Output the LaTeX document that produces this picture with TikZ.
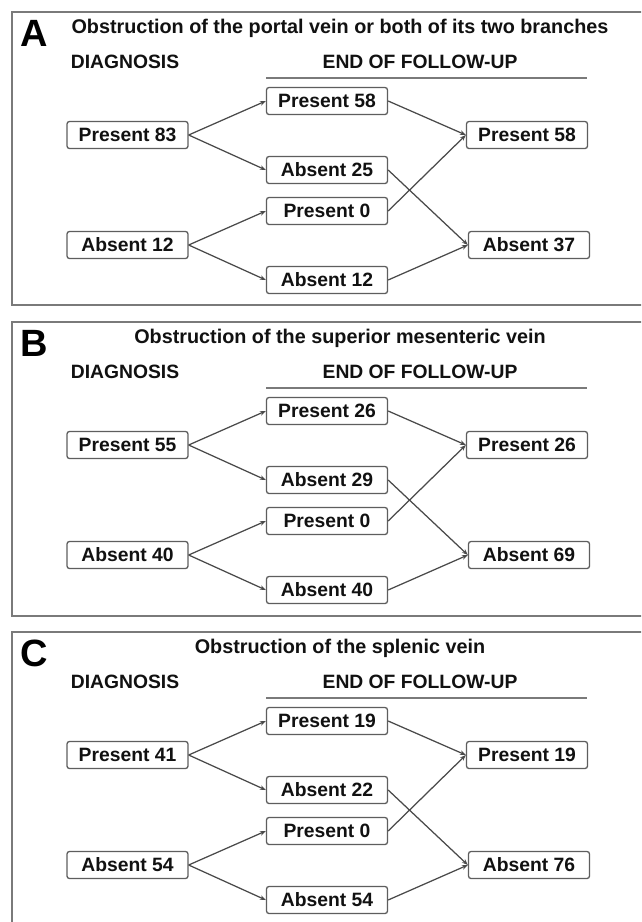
\documentclass[tikz,border=0pt]{standalone}
\usepackage{fontspec}
\setmainfont{Liberation Sans}
\usetikzlibrary{arrows.meta}
\definecolor{framegray}{HTML}{7A7A7A}
\definecolor{boxgray}{HTML}{5E5E5E}
\definecolor{linegray}{HTML}{4A4A4A}
\definecolor{txt}{HTML}{111111}
\begin{document}
\begin{tikzpicture}[x=1pt,y=-1pt,
  frame/.style={draw=framegray, line width=1.6pt, fill=white},
  box/.style={draw=boxgray, line width=1.3pt, rounded corners=2.5pt, minimum width=121pt, minimum height=27pt, inner sep=0pt, fill=white, text=txt, font=\fontsize{19.3}{21}\selectfont\bfseries},
  head/.style={text=txt, inner sep=0pt, font=\fontsize{19.3}{21}\selectfont\bfseries},
  ttl/.style={text=txt, inner sep=0pt, font=\fontsize{19.8}{21}\selectfont\bfseries},
  letter/.style={text=black, inner sep=0pt, font=\fontsize{38}{40}\selectfont\bfseries},
  rule/.style={draw=framegray, line width=1.4pt},
  conn/.style={draw=linegray, line width=1.25pt, -{Stealth[length=6pt,width=4.5pt]}}]
\useasboundingbox (0,0) rectangle (641,922);
\clip (0,0) rectangle (641,922);
\fill[white] (0,0) rectangle (641,922);

% ---------------- Panel A ----------------
\begin{scope}
\path[frame] (12,12) rectangle (660,305);
\node[letter] (aL) at (34,33) {A};
\node[ttl] (aT) at (340,28) {Obstruction of the portal vein or both of its two branches};
\node[head] (aD) at (125,62) {DIAGNOSIS};
\node[head] (aE) at (420,62) {END OF FOLLOW-UP};
\coordinate (aU1) at (266,78);
\coordinate (aU2) at (587,78);
\draw[rule] (aU1) -- (aU2);
\node[box] (al1) at (127.5,135) {Present 83};
\node[box] (al2) at (127.5,245) {Absent 12};
\node[box] (am1) at (327,101) {Present 58};
\node[box] (am2) at (327,170) {Absent 25};
\node[box] (am3) at (327,211) {Present 0};
\node[box] (am4) at (327,280) {Absent 12};
\node[box] (ar1) at (527,135) {Present 58};
\node[box] (ar2) at (529,245) {Absent 37};
\draw[conn] (al1.east) -- (am1.west);
\draw[conn] (al1.east) -- (am2.west);
\draw[conn] (al2.east) -- (am3.west);
\draw[conn] (al2.east) -- (am4.west);
\draw[conn] (am1.east) -- (ar1.west);
\draw[conn] (am3.east) -- (ar1.west);
\draw[conn] (am2.east) -- (ar2.west);
\draw[conn] (am4.east) -- (ar2.west);
\end{scope}

% ---------------- Panel B ----------------
\begin{scope}[yshift=-310pt]
\path[frame] (12,12) rectangle (660,306);
\node[letter] (bL) at (34,33) {B};
\node[ttl] (bT) at (340,28) {Obstruction of the superior mesenteric vein};
\node[head] (bD) at (125,62) {DIAGNOSIS};
\node[head] (bE) at (420,62) {END OF FOLLOW-UP};
\coordinate (bU1) at (266,78);
\coordinate (bU2) at (587,78);
\draw[rule] (bU1) -- (bU2);
\node[box] (bl1) at (127.5,135) {Present 55};
\node[box] (bl2) at (127.5,245) {Absent 40};
\node[box] (bm1) at (327,101) {Present 26};
\node[box] (bm2) at (327,170) {Absent 29};
\node[box] (bm3) at (327,211) {Present 0};
\node[box] (bm4) at (327,280) {Absent 40};
\node[box] (br1) at (527,135) {Present 26};
\node[box] (br2) at (529,245) {Absent 69};
\draw[conn] (bl1.east) -- (bm1.west);
\draw[conn] (bl1.east) -- (bm2.west);
\draw[conn] (bl2.east) -- (bm3.west);
\draw[conn] (bl2.east) -- (bm4.west);
\draw[conn] (bm1.east) -- (br1.west);
\draw[conn] (bm3.east) -- (br1.west);
\draw[conn] (bm2.east) -- (br2.west);
\draw[conn] (bm4.east) -- (br2.west);
\end{scope}

% ---------------- Panel C ----------------
\begin{scope}[yshift=-620pt]
\path[frame] (12,12) rectangle (660,330);
\node[letter] (cL) at (34,33) {C};
\node[ttl] (cT) at (340,28) {Obstruction of the splenic vein};
\node[head] (cD) at (125,62) {DIAGNOSIS};
\node[head] (cE) at (420,62) {END OF FOLLOW-UP};
\coordinate (cU1) at (266,78);
\coordinate (cU2) at (587,78);
\draw[rule] (cU1) -- (cU2);
\node[box] (cl1) at (127.5,135) {Present 41};
\node[box] (cl2) at (127.5,245) {Absent 54};
\node[box] (cm1) at (327,101) {Present 19};
\node[box] (cm2) at (327,170) {Absent 22};
\node[box] (cm3) at (327,211) {Present 0};
\node[box] (cm4) at (327,280) {Absent 54};
\node[box] (cr1) at (527,135) {Present 19};
\node[box] (cr2) at (529,245) {Absent 76};
\draw[conn] (cl1.east) -- (cm1.west);
\draw[conn] (cl1.east) -- (cm2.west);
\draw[conn] (cl2.east) -- (cm3.west);
\draw[conn] (cl2.east) -- (cm4.west);
\draw[conn] (cm1.east) -- (cr1.west);
\draw[conn] (cm3.east) -- (cr1.west);
\draw[conn] (cm2.east) -- (cr2.west);
\draw[conn] (cm4.east) -- (cr2.west);
\end{scope}
\end{tikzpicture}
\end{document}
